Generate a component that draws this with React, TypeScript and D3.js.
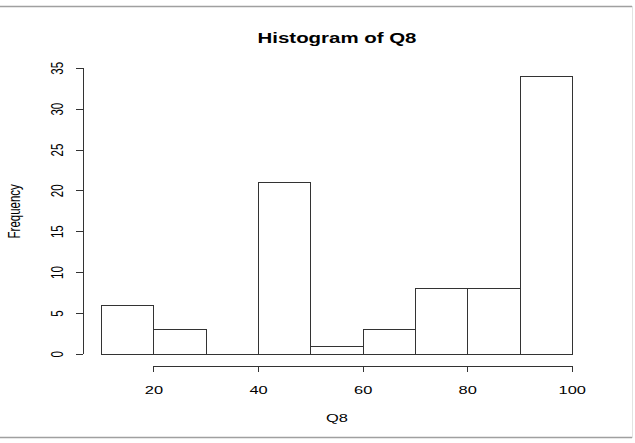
import React from "react";
import * as d3 from "d3";

// Data: histogram breaks and counts
const breaks = [10, 20, 30, 40, 50, 60, 70, 80, 90, 100];
const counts = [6, 3, 0, 21, 1, 3, 8, 8, 34];
const xTicks = [20, 40, 60, 80, 100];
const yTicks = [0, 5, 10, 15, 20, 25, 30, 35];

const W = 635;
const H = 443;
const FONT = "'Liberation Sans', Arial, Helvetica, sans-serif";
// the source image is stretched horizontally, text with it
const SX = 1.43;

export default function App() {
  const x = d3.scaleLinear().domain([10, 100]).range([101.7, 572.3]);
  const y = d3.scaleLinear().domain([0, 35]).range([354.3, 68.3]);
  const axisY = 366;
  const axisX = 83;

  const bins = counts.map((c, i) => ({ x0: breaks[i], x1: breaks[i + 1], c }));

  // a path, so that empty bins still draw their bottom edge like R does
  const barPath = (b: { x0: number; x1: number; c: number }) => {
    const p = d3.path();
    p.moveTo(x(b.x0), y(0));
    p.lineTo(x(b.x1), y(0));
    p.lineTo(x(b.x1), y(b.c));
    p.lineTo(x(b.x0), y(b.c));
    p.closePath();
    return p.toString();
  };

  return (
    <svg
      width={W}
      height={H}
      style={{ position: "fixed", left: 0, top: 0, background: "#fff" }}
    >
      {/* frame */}
      <line x1={0} x2={632} y1={6.5} y2={6.5} stroke="#a0a0a0" strokeWidth={1.5} />
      <line x1={0} x2={632} y1={437.5} y2={437.5} stroke="#a0a0a0" strokeWidth={1.5} />
      <line x1={632.5} x2={632.5} y1={6} y2={438} stroke="#e2e2e2" strokeWidth={1} />

      {/* title */}
      <text
        transform={`translate(${(x(10) + x(100)) / 2},42.7) scale(${SX},1)`}
        textAnchor="middle"
        fontFamily={FONT}
        fontWeight="bold"
        fontSize={14.3}
        fill="#000"
      >
        Histogram of Q8
      </text>

      <g shapeRendering="crispEdges" stroke="#333" strokeWidth={1}>
        {/* bars */}
        {bins.map((b, i) => (
          <path key={i} d={barPath(b)} fill="#fff" />
        ))}

        {/* x axis */}
        <line x1={x(20)} x2={x(100)} y1={axisY} y2={axisY} />
        {xTicks.map((t) => (
          <line key={t} x1={x(t)} x2={x(t)} y1={axisY} y2={axisY + 6} />
        ))}

        {/* y axis */}
        <line x1={axisX} x2={axisX} y1={y(0)} y2={y(35)} />
        {yTicks.map((t) => (
          <line key={t} x1={axisX - 7} x2={axisX} y1={y(t)} y2={y(t)} />
        ))}
      </g>

      {xTicks.map((t) => (
        <text
          key={t}
          transform={`translate(${x(t)},394) scale(${SX},1)`}
          textAnchor="middle"
          fontFamily={FONT}
          fontSize={11.5}
          fill="#000"
        >
          {t}
        </text>
      ))}
      <text
        transform={`translate(${(x(10) + x(100)) / 2},422) scale(${SX},1)`}
        textAnchor="middle"
        fontFamily={FONT}
        fontSize={11.5}
        fill="#000"
      >
        Q8
      </text>

      {yTicks.map((t) => (
        <text
          key={t}
          transform={`translate(63,${y(t)}) scale(${SX},1) rotate(-90)`}
          textAnchor="middle"
          fontFamily={FONT}
          fontSize={11.5}
          fill="#000"
        >
          {t}
        </text>
      ))}
      <text
        transform={`translate(20,${(y(0) + y(35)) / 2}) scale(${SX},1) rotate(-90)`}
        textAnchor="middle"
        fontFamily={FONT}
        fontSize={11.5}
        fill="#000"
      >
        Frequency
      </text>
    </svg>
  );
}
